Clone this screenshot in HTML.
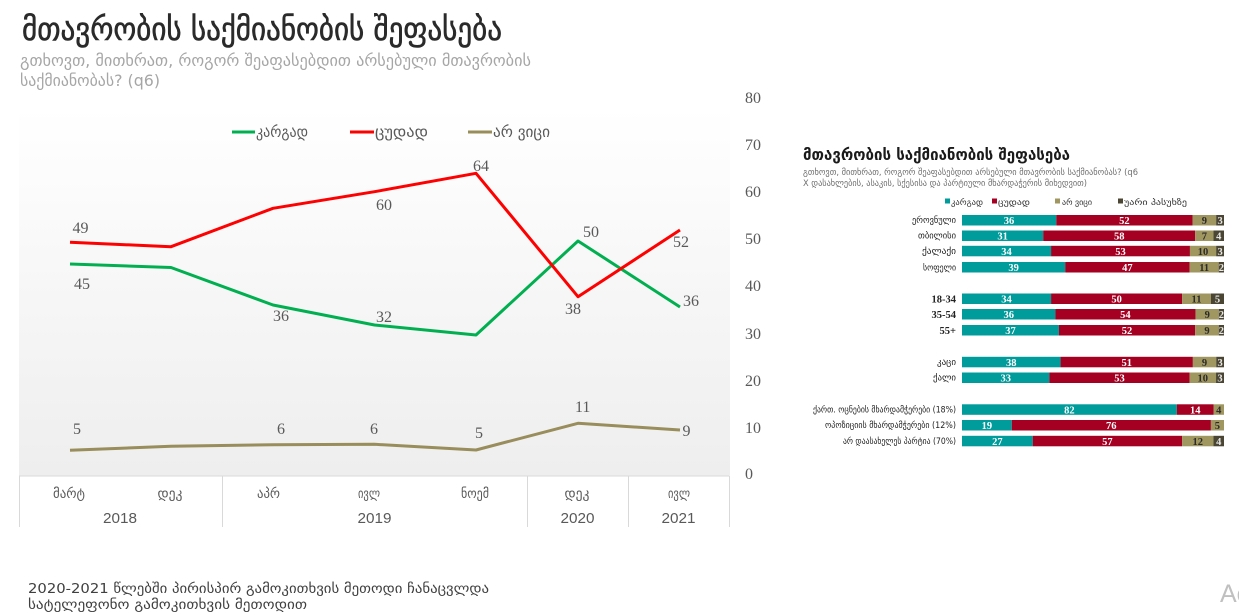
<!DOCTYPE html>
<html>
<head>
<meta charset="utf-8">
<style>
  html,body{margin:0;padding:0;background:#fff;}
  svg{display:block;}
  .ka{font-family:"DejaVu Sans","Liberation Sans",sans-serif;}
  .num{font-family:"Liberation Serif",serif;}
</style>
</head>
<body>
<svg width="1239" height="615" viewBox="0 0 1239 615" xmlns="http://www.w3.org/2000/svg">
  <defs>
    <linearGradient id="pg" x1="0" y1="0" x2="0" y2="1">
      <stop offset="0" stop-color="#ffffff"/>
      <stop offset="1" stop-color="#eeeeee"/>
    </linearGradient>
  </defs>
  <rect x="0" y="0" width="1239" height="615" fill="#ffffff"/>

  <!-- Title -->
  <text class="ka" x="22" y="40" font-size="32" fill="#2a2a2a" stroke="#2a2a2a" stroke-width="0.6" textLength="480" lengthAdjust="spacingAndGlyphs">მთავრობის საქმიანობის შეფასება</text>
  <text class="ka" x="20" y="66" font-size="16" fill="#a6a6a6" textLength="511" lengthAdjust="spacingAndGlyphs">გთხოვთ, მითხრათ, როგორ შეაფასებდით არსებული მთავრობის</text>
  <text class="ka" x="20" y="86" font-size="16" fill="#a6a6a6" textLength="140" lengthAdjust="spacingAndGlyphs">საქმიანობას? (q6)</text>

  <!-- Plot background -->
  <rect x="19" y="108" width="711" height="368" fill="url(#pg)"/>

  <!-- Legend -->
  <line x1="232" y1="132" x2="255" y2="132" stroke="#00b050" stroke-width="3"/>
  <text class="ka" x="256" y="137" font-size="15" fill="#595959" textLength="52" lengthAdjust="spacingAndGlyphs">კარგად</text>
  <line x1="350" y1="132" x2="374" y2="132" stroke="#ff0000" stroke-width="3"/>
  <text class="ka" x="375" y="137" font-size="15" fill="#595959" textLength="53" lengthAdjust="spacingAndGlyphs">ცუდად</text>
  <line x1="468" y1="132" x2="492" y2="132" stroke="#988d5b" stroke-width="3"/>
  <text class="ka" x="493" y="137" font-size="15" fill="#595959" textLength="57" lengthAdjust="spacingAndGlyphs">არ ვიცი</text>

  <!-- Right axis labels -->
  <g class="num" font-size="16" fill="#595959">
    <text x="745" y="103">80</text>
    <text x="745" y="150">70</text>
    <text x="745" y="197">60</text>
    <text x="745" y="244">50</text>
    <text x="745" y="291">40</text>
    <text x="745" y="339">30</text>
    <text x="745" y="386">20</text>
    <text x="745" y="433">10</text>
    <text x="745" y="479">0</text>
  </g>

  <!-- Series lines -->
  <polyline fill="none" stroke="#988d5b" stroke-width="3" stroke-linejoin="round"
    points="70,450.3 171,446.3 273,444.7 374.5,444.3 476,450 578,423.3 680,430"/>
  <polyline fill="none" stroke="#00b050" stroke-width="3" stroke-linejoin="round"
    points="70,264 171,267.5 273,305 374.5,325 476,335 578,241 680,307"/>
  <polyline fill="none" stroke="#ff0000" stroke-width="3" stroke-linejoin="round"
    points="70,242.3 171,246.7 273,208.3 374.5,191.7 476,173.3 578,296.7 680,230"/>

  <!-- Data labels -->
  <g class="num" font-size="16" fill="#595959">
    <text x="72.5" y="233">49</text>
    <text x="74" y="289">45</text>
    <text x="273" y="321">36</text>
    <text x="376" y="322">32</text>
    <text x="376" y="210">60</text>
    <text x="73" y="434">5</text>
    <text x="277" y="434">6</text>
    <text x="370" y="434">6</text>
    <text x="473" y="171">64</text>
    <text x="583" y="237">50</text>
    <text x="565" y="314">38</text>
    <text x="673" y="247">52</text>
    <text x="683" y="306">36</text>
    <text x="575" y="412">11</text>
    <text x="475" y="438">5</text>
    <text x="682.5" y="436">9</text>
  </g>

  <!-- Category axis table -->
  <rect x="19" y="476" width="710" height="51" fill="#ffffff"/>
  <g stroke="#d9d9d9" stroke-width="1">
    <line x1="19" y1="476" x2="729" y2="476"/>
    <line x1="19.5" y1="476" x2="19.5" y2="527"/>
    <line x1="222.5" y1="476" x2="222.5" y2="527"/>
    <line x1="527.5" y1="476" x2="527.5" y2="527"/>
    <line x1="628.5" y1="476" x2="628.5" y2="527"/>
    <line x1="729.5" y1="476" x2="729.5" y2="527"/>
  </g>
  <g class="ka" font-size="14" fill="#595959" text-anchor="middle">
    <text x="69" y="498" textLength="32" lengthAdjust="spacingAndGlyphs">მარტ</text>
    <text x="170" y="498" textLength="25" lengthAdjust="spacingAndGlyphs">დეკ</text>
    <text x="268.5" y="498" textLength="23" lengthAdjust="spacingAndGlyphs">აპრ</text>
    <text x="369" y="498" textLength="22" lengthAdjust="spacingAndGlyphs">ივლ</text>
    <text x="475" y="498" textLength="28" lengthAdjust="spacingAndGlyphs">ნოემ</text>
    <text x="577" y="498" textLength="25" lengthAdjust="spacingAndGlyphs">დეკ</text>
    <text x="679" y="498" textLength="22" lengthAdjust="spacingAndGlyphs">ივლ</text>
  </g>
  <g font-family="'Liberation Sans Narrow','Liberation Sans',sans-serif" font-size="15" fill="#595959" text-anchor="middle">
    <text x="120" y="523" textLength="34" lengthAdjust="spacingAndGlyphs">2018</text>
    <text x="374.5" y="523" textLength="34" lengthAdjust="spacingAndGlyphs">2019</text>
    <text x="577.5" y="523" textLength="34" lengthAdjust="spacingAndGlyphs">2020</text>
    <text x="678.5" y="523" textLength="34" lengthAdjust="spacingAndGlyphs">2021</text>
  </g>

  <!-- Footnote -->
  <text class="ka" x="28" y="593" font-size="13.5" fill="#404040" textLength="461" lengthAdjust="spacingAndGlyphs">2020-2021 წლებში პირისპირ გამოკითხვის მეთოდი ჩანაცვლდა</text>
  <text class="ka" x="28" y="609" font-size="13.5" fill="#404040" textLength="279" lengthAdjust="spacingAndGlyphs">სატელეფონო გამოკითხვის მეთოდით</text>

  <!-- Watermark fragment -->
  <text x="1220" y="602" font-family="Liberation Sans, sans-serif" font-size="25" fill="#c0c0c0">Ac</text>

  <!-- ===== Right embedded chart ===== -->
  <text class="ka" x="803" y="160" font-size="16" font-weight="bold" fill="#1a1a1a" textLength="267" lengthAdjust="spacingAndGlyphs">მთავრობის საქმიანობის შეფასება</text>
  <text class="ka" x="803" y="175" font-size="9" fill="#6f6f6f" textLength="335" lengthAdjust="spacingAndGlyphs">გთხოვთ, მითხრათ, როგორ შეაფასებდით არსებული მთავრობის საქმიანობას? (q6</text>
  <text class="ka" x="803" y="186" font-size="9" fill="#6f6f6f" textLength="284" lengthAdjust="spacingAndGlyphs">X დასახლების, ასაკის, სქესისა და პარტიული მხარდაჭერის მიხედვით)</text>

  <!-- right legend -->
  <rect x="945" y="198.5" width="5" height="5" fill="#009b9b"/>
  <text class="ka" x="951" y="205" font-size="8.5" fill="#333" textLength="32" lengthAdjust="spacingAndGlyphs">კარგად</text>
  <rect x="992" y="198.5" width="5" height="5" fill="#a50021"/>
  <text class="ka" x="998" y="205" font-size="8.5" fill="#333" textLength="32" lengthAdjust="spacingAndGlyphs">ცუდად</text>
  <rect x="1055" y="198.5" width="5" height="5" fill="#a09660"/>
  <text class="ka" x="1062" y="205" font-size="8.5" fill="#333" textLength="30" lengthAdjust="spacingAndGlyphs">არ ვიცი</text>
  <rect x="1118" y="198.5" width="5" height="5" fill="#4a4633"/>
  <text class="ka" x="1124" y="205" font-size="8.5" fill="#333" textLength="63" lengthAdjust="spacingAndGlyphs">უარი პასუხზე</text>

  <!-- row labels -->
  <g class="ka" font-size="9" fill="#222" text-anchor="end">
    <text x="956" y="223" textLength="44" lengthAdjust="spacingAndGlyphs">ეროვნული</text>
    <text x="956" y="238.7" textLength="38" lengthAdjust="spacingAndGlyphs">თბილისი</text>
    <text x="956" y="254" textLength="34" lengthAdjust="spacingAndGlyphs">ქალაქი</text>
    <text x="956" y="270.3" textLength="33" lengthAdjust="spacingAndGlyphs">სოფელი</text>
    <text x="956" y="365" textLength="19" lengthAdjust="spacingAndGlyphs">კაცი</text>
    <text x="956" y="380.7" textLength="23" lengthAdjust="spacingAndGlyphs">ქალი</text>
    <text x="956" y="412.5" textLength="143" lengthAdjust="spacingAndGlyphs">ქართ. ოცნების მხარდამჭერები (18%)</text>
    <text x="956" y="428.2" textLength="131" lengthAdjust="spacingAndGlyphs">ოპოზიციის მხარდამჭერები (12%)</text>
    <text x="956" y="444" textLength="113" lengthAdjust="spacingAndGlyphs">არ დაასახელეს პარტია (70%)</text>
  </g>
  <g class="num" font-size="10.5" font-weight="bold" fill="#222" text-anchor="end">
    <text x="956" y="302.5">18-34</text>
    <text x="956" y="318">35-54</text>
    <text x="956" y="334">55+</text>
  </g>

  <!-- bars -->
  <g>
    <rect x="962" y="215" width="94.32" height="10.5" fill="#009b9b"/>
    <rect x="1056.32" y="215" width="136.24" height="10.5" fill="#a50021"/>
    <rect x="1192.56" y="215" width="23.58" height="10.5" fill="#a09660"/>
    <rect x="1216.14" y="215" width="7.86" height="10.5" fill="#4a4633"/>

    <rect x="962" y="230.5" width="81.22" height="10.5" fill="#009b9b"/>
    <rect x="1043.22" y="230.5" width="151.96" height="10.5" fill="#a50021"/>
    <rect x="1195.18" y="230.5" width="18.34" height="10.5" fill="#a09660"/>
    <rect x="1213.52" y="230.5" width="10.48" height="10.5" fill="#4a4633"/>

    <rect x="962" y="245.8" width="89.08" height="10.5" fill="#009b9b"/>
    <rect x="1051.08" y="245.8" width="138.86" height="10.5" fill="#a50021"/>
    <rect x="1189.94" y="245.8" width="26.2" height="10.5" fill="#a09660"/>
    <rect x="1216.14" y="245.8" width="7.86" height="10.5" fill="#4a4633"/>

    <rect x="962" y="262" width="103.21" height="10.5" fill="#009b9b"/>
    <rect x="1065.21" y="262" width="124.39" height="10.5" fill="#a50021"/>
    <rect x="1189.6" y="262" width="29.11" height="10.5" fill="#a09660"/>
    <rect x="1218.71" y="262" width="5.29" height="10.5" fill="#4a4633"/>

    <rect x="962" y="293.5" width="89.08" height="10.5" fill="#009b9b"/>
    <rect x="1051.08" y="293.5" width="131" height="10.5" fill="#a50021"/>
    <rect x="1182.08" y="293.5" width="28.82" height="10.5" fill="#a09660"/>
    <rect x="1210.9" y="293.5" width="13.1" height="10.5" fill="#4a4633"/>

    <rect x="962" y="309" width="93.39" height="10.5" fill="#009b9b"/>
    <rect x="1055.39" y="309" width="140.08" height="10.5" fill="#a50021"/>
    <rect x="1195.47" y="309" width="23.35" height="10.5" fill="#a09660"/>
    <rect x="1218.82" y="309" width="5.18" height="10.5" fill="#4a4633"/>

    <rect x="962" y="325" width="96.94" height="10.5" fill="#009b9b"/>
    <rect x="1058.94" y="325" width="136.24" height="10.5" fill="#a50021"/>
    <rect x="1195.18" y="325" width="23.58" height="10.5" fill="#a09660"/>
    <rect x="1218.76" y="325" width="5.24" height="10.5" fill="#4a4633"/>

    <rect x="962" y="356.8" width="98.57" height="10.5" fill="#009b9b"/>
    <rect x="1060.57" y="356.8" width="132.3" height="10.5" fill="#a50021"/>
    <rect x="1192.87" y="356.8" width="23.35" height="10.5" fill="#a09660"/>
    <rect x="1216.22" y="356.8" width="7.78" height="10.5" fill="#4a4633"/>

    <rect x="962" y="372.5" width="87.33" height="10.5" fill="#009b9b"/>
    <rect x="1049.33" y="372.5" width="140.26" height="10.5" fill="#a50021"/>
    <rect x="1189.59" y="372.5" width="26.46" height="10.5" fill="#a09660"/>
    <rect x="1216.05" y="372.5" width="7.95" height="10.5" fill="#4a4633"/>

    <rect x="962" y="404.3" width="214.84" height="10.5" fill="#009b9b"/>
    <rect x="1176.84" y="404.3" width="36.68" height="10.5" fill="#a50021"/>
    <rect x="1213.52" y="404.3" width="10.48" height="10.5" fill="#a09660"/>

    <rect x="962" y="420" width="49.78" height="10.5" fill="#009b9b"/>
    <rect x="1011.78" y="420" width="199.12" height="10.5" fill="#a50021"/>
    <rect x="1210.9" y="420" width="13.1" height="10.5" fill="#a09660"/>

    <rect x="962" y="435.8" width="70.74" height="10.5" fill="#009b9b"/>
    <rect x="1032.74" y="435.8" width="149.34" height="10.5" fill="#a50021"/>
    <rect x="1182.08" y="435.8" width="31.44" height="10.5" fill="#a09660"/>
    <rect x="1213.52" y="435.8" width="10.48" height="10.5" fill="#4a4633"/>
  </g>

  <!-- bar value labels -->
  <g class="num" font-size="10.5" font-weight="bold" text-anchor="middle">
    <g fill="#ffffff">
      <text x="1009" y="224">36</text><text x="1124.4" y="224">52</text>
      <text x="1002.6" y="239.5">31</text><text x="1119.2" y="239.5">58</text>
      <text x="1006.5" y="254.8">34</text><text x="1120.5" y="254.8">53</text>
      <text x="1013.6" y="271">39</text><text x="1127.4" y="271">47</text>
      <text x="1006.5" y="302.5">34</text><text x="1116.6" y="302.5">50</text>
      <text x="1008.7" y="318">36</text><text x="1125.4" y="318">54</text>
      <text x="1010.5" y="334">37</text><text x="1127" y="334">52</text>
      <text x="1011.3" y="365.8">38</text><text x="1126.7" y="365.8">51</text>
      <text x="1005.7" y="381.5">33</text><text x="1119.5" y="381.5">53</text>
      <text x="1069.4" y="413.3">82</text><text x="1195.2" y="413.3">14</text>
      <text x="986.9" y="429">19</text><text x="1111.3" y="429">76</text>
      <text x="997.4" y="444.8">27</text><text x="1107.4" y="444.8">57</text>
    </g>
    <g fill="#2b2b2b">
      <text x="1204.4" y="224">9</text>
      <text x="1204.4" y="239.5">7</text>
      <text x="1203" y="254.8">10</text>
      <text x="1204.2" y="271">11</text>
      <text x="1196.5" y="302.5">11</text>
      <text x="1207.2" y="318">9</text>
      <text x="1207" y="334">9</text>
      <text x="1204.5" y="365.8">9</text>
      <text x="1202.8" y="381.5">10</text>
      <text x="1218.8" y="413.3">4</text>
      <text x="1217.4" y="429">5</text>
      <text x="1197.8" y="444.8">12</text>
    </g>
    <g fill="#e8e8e8">
      <text x="1220.1" y="224">3</text>
      <text x="1218.8" y="239.5">4</text>
      <text x="1220.1" y="254.8">3</text>
      <text x="1221.4" y="271">2</text>
      <text x="1217.5" y="302.5">5</text>
      <text x="1221.4" y="318">2</text>
      <text x="1221.4" y="334">2</text>
      <text x="1220.1" y="365.8">3</text>
      <text x="1220" y="381.5">3</text>
      <text x="1218.8" y="444.8">4</text>
    </g>
  </g>
</svg>
</body>
</html>
